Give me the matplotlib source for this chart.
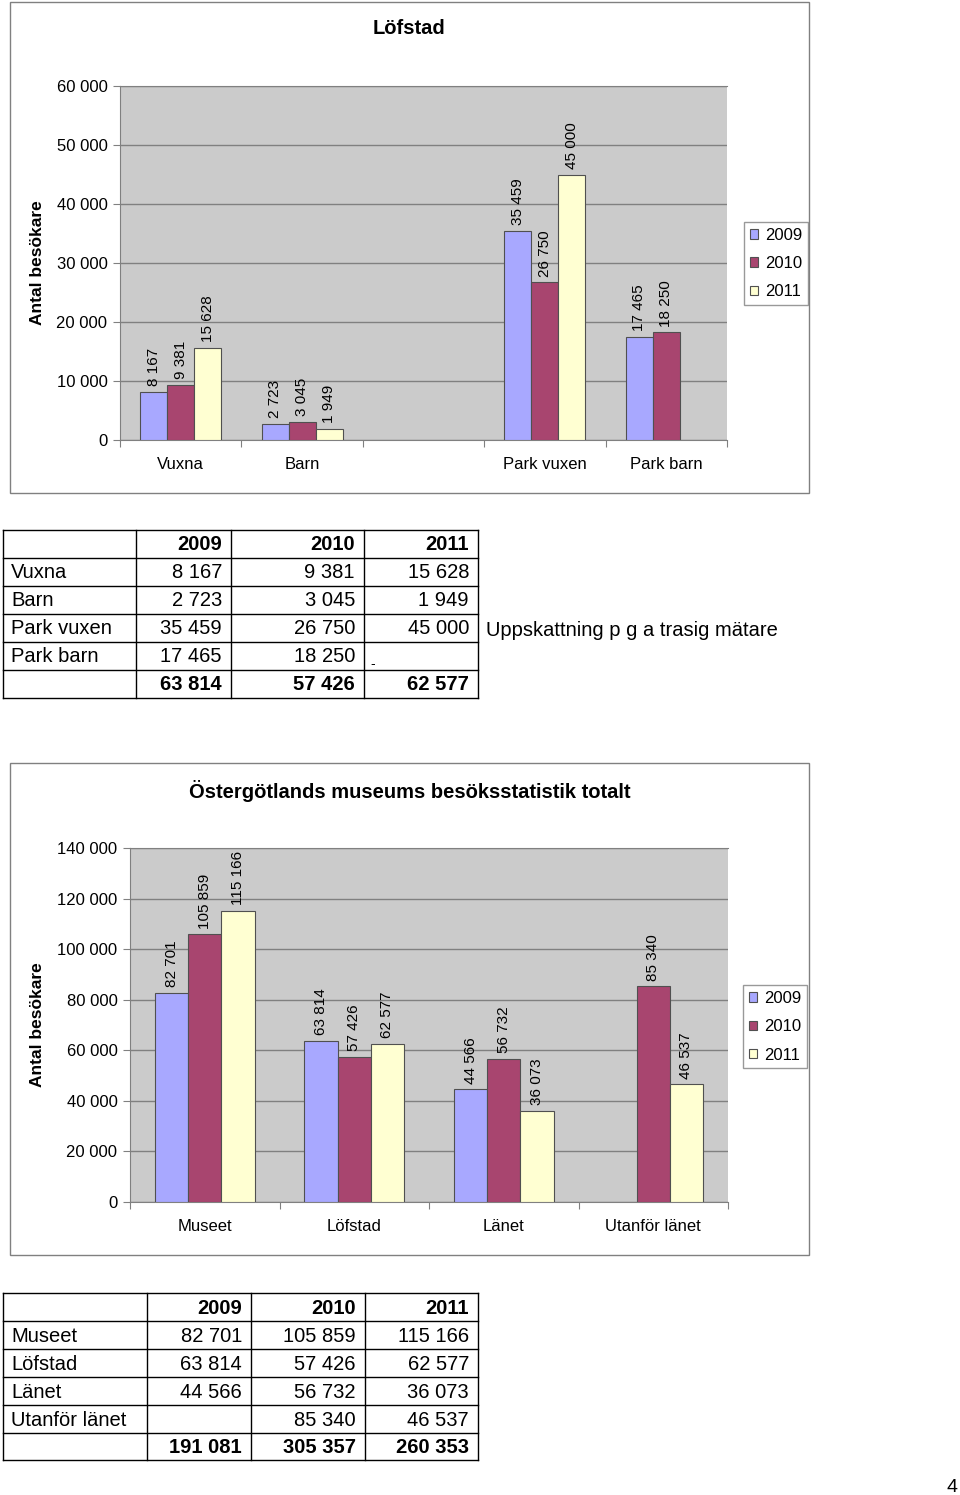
import numpy as np
import matplotlib
matplotlib.use("Agg")
import matplotlib.pyplot as plt
from matplotlib.patches import Rectangle, Patch
from matplotlib.ticker import FuncFormatter

plt.rcParams['font.family'] = ['Liberation Sans', 'DejaVu Sans']

W, H = 960, 1495

years = ["2009", "2010", "2011"]
colors = ["#a8a8ff", "#a8456f", "#ffffd2"]

# Löfstad (third slot is an empty category in the chart)
lofstad_cats = ["Vuxna", "Barn", "", "Park vuxen", "Park barn"]
lofstad_2009 = [8167, 2723, None, 35459, 17465]
lofstad_2010 = [9381, 3045, None, 26750, 18250]
lofstad_2011 = [15628, 1949, None, 45000, None]
lofstad_note = "Uppskattning p g a trasig mätare"

# Östergötlands museum totalt
total_cats = ["Museet", "Löfstad", "Länet", "Utanför länet"]
total_2009 = [82701, 63814, 44566, None]
total_2010 = [105859, 57426, 56732, 85340]
total_2011 = [115166, 62577, 36073, 46537]


def fmt(v):
    return f"{v:,.0f}".replace(",", " ")


def px_box(x0, y0, x1, y1):
    return [x0 / W, 1 - y1 / H, (x1 - x0) / W, (y1 - y0) / H]


def draw_chart(fig, page, frame, plot, title, title_y, cats, series,
               ymax, ystep, legend_xy):
    page.add_patch(Rectangle((frame[0], frame[1]), frame[2] - frame[0],
                             frame[3] - frame[1], fill=False,
                             edgecolor="#808080", linewidth=1))
    page.text((frame[0] + frame[2]) / 2, title_y, title, ha="center",
              va="center", fontsize=14.5, fontweight="bold")

    ax = fig.add_axes(px_box(*plot))
    ax.set_facecolor("#cbcbcb")
    n = len(cats)
    bw = 1 / 4.5
    for i, (vals, col) in enumerate(zip(series, colors)):
        xs = [j + (i - 1) * bw for j, v in enumerate(vals) if v is not None]
        hs = [v for v in vals if v is not None]
        ax.bar(xs, hs, width=bw, color=col, edgecolor="#505050",
               linewidth=0.8, zorder=3)
        for x, v in zip(xs, hs):
            ax.annotate(fmt(v), (x, v), xytext=(0, 4),
                        textcoords="offset points", rotation=90,
                        ha="center", va="bottom", fontsize=11, zorder=4)

    ax.set_xlim(-0.5, n - 0.5)
    ax.set_ylim(0, ymax)
    ax.set_yticks(np.arange(0, ymax + 1, ystep))
    ax.yaxis.set_major_formatter(FuncFormatter(lambda v, p: fmt(v)))
    ax.grid(axis="y", color="#808080", linewidth=1, zorder=0)
    ax.set_axisbelow(True)

    ax.set_xticks(np.arange(n + 1) - 0.5)
    ax.set_xticklabels([])
    ax.set_xticks(np.arange(n), minor=True)
    ax.set_xticklabels(cats, minor=True)
    ax.tick_params(axis="x", which="major", length=5, color="#808080")
    ax.tick_params(axis="x", which="minor", length=0, pad=12, labelsize=12)
    ax.tick_params(axis="y", length=5, color="#808080", pad=4, labelsize=12)
    for s in ["left", "bottom", "top"]:
        ax.spines[s].set_color("#808080")
    ax.spines["right"].set_visible(False)

    ax.set_ylabel("Antal besökare", fontsize=12.5, fontweight="bold",
                  va="center")
    ax.yaxis.set_label_coords((37 - plot[0]) / (plot[2] - plot[0]), 0.5)

    handles = [Patch(facecolor=c, edgecolor="#505050", linewidth=0.8)
               for c in colors]
    leg = fig.legend(handles, years, loc="upper left",
                     bbox_to_anchor=(legend_xy[0] / W, 1 - legend_xy[1] / H),
                     frameon=True, fancybox=False, edgecolor="#808080",
                     fontsize=12, handlelength=0.5, handleheight=0.5,
                     handletextpad=0.4, labelspacing=0.8, borderpad=0.35,
                     borderaxespad=0)
    leg.get_frame().set_linewidth(1)
    return ax


def draw_table(page, cols, rows_y, labels, series, missing=""):
    for y in rows_y:
        page.plot([cols[0], cols[-1]], [y, y], color="black", lw=1)
    for x in cols:
        page.plot([x, x], [rows_y[0], rows_y[-1]], color="black", lw=1)

    def cy(r):
        return (rows_y[r] + rows_y[r + 1]) / 2 + 1

    for c, yr in enumerate(years):
        page.text(cols[c + 2] - 9, cy(0), yr, ha="right", va="center",
                  fontsize=14.5, fontweight="bold")
    for r, lab in enumerate(labels):
        page.text(cols[0] + 8, cy(r + 1), lab, ha="left", va="center",
                  fontsize=14.5)
        for c, vals in enumerate(series):
            v = vals[r]
            if v is None:
                if missing:
                    page.text(cols[c + 1] + 6, rows_y[r + 2] - 2, missing,
                              ha="left", va="baseline", fontsize=10)
                continue
            page.text(cols[c + 2] - 9, cy(r + 1), fmt(v), ha="right",
                      va="center", fontsize=14.5)
    last = len(rows_y) - 2
    for c, vals in enumerate(series):
        tot = sum(v for v in vals if v is not None)
        page.text(cols[c + 2] - 9, cy(last), fmt(tot), ha="right",
                  va="center", fontsize=14.5, fontweight="bold")


fig = plt.figure(figsize=(W / 100, H / 100), dpi=100)
page = fig.add_axes([0, 0, 1, 1])
page.set_xlim(0, W)
page.set_ylim(H, 0)
page.axis("off")

# chart 1
lof_series = [lofstad_2009, lofstad_2010, lofstad_2011]
draw_chart(fig, page, (10, 2, 809, 493), (120, 86, 727, 440), "Löfstad", 28,
           lofstad_cats, lof_series, 60000, 10000, (744, 222))

# table 1
lof_rows = [c for c in lofstad_cats if c]
lof_tab = [[v for v, c in zip(s, lofstad_cats) if c] for s in lof_series]
draw_table(page, [3, 136, 231, 364, 478], [530, 558, 586, 614, 642, 670, 698],
           lof_rows, lof_tab, missing="-")
page.text(486, 630, lofstad_note, ha="left", va="center", fontsize=14.5)

# chart 2
tot_series = [total_2009, total_2010, total_2011]
draw_chart(fig, page, (10, 763, 809, 1255), (130, 848, 728, 1202),
           "Östergötlands museums besöksstatistik totalt", 791,
           total_cats, tot_series, 140000, 20000, (743, 985))

# table 2
draw_table(page, [3, 147, 251, 365, 478],
           [1293, 1321, 1349, 1377, 1405, 1433, 1460],
           total_cats, tot_series)

page.text(952, 1487, "4", ha="center", va="center", fontsize=14)

fig.savefig("out.png", dpi=100)
